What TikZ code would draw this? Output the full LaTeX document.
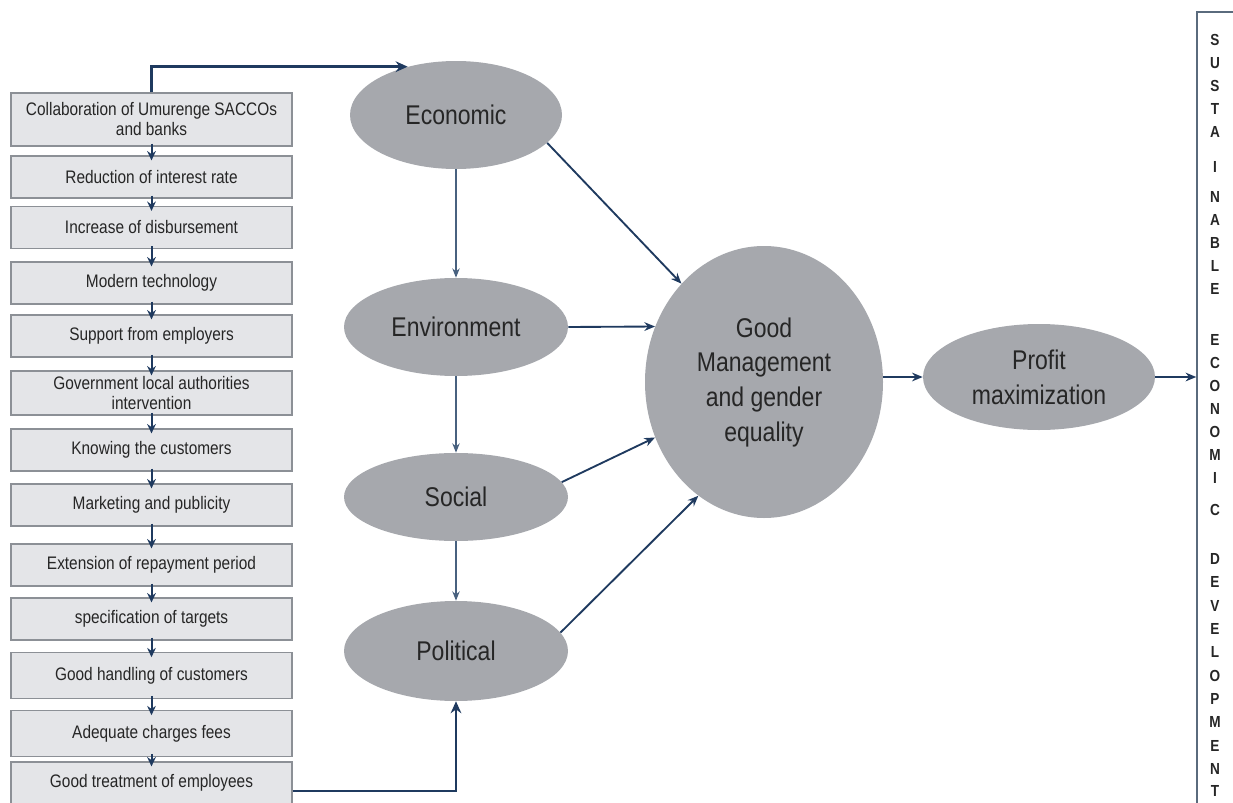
\documentclass[tikz,border=0pt]{standalone}
\usepackage{fontspec}
\setmainfont{Liberation Sans}[FakeStretch=0.85]
\usepackage{tikz}
\usetikzlibrary{arrows.meta, shapes.geometric, calc, positioning}
\usepackage{xcolor}

\definecolor{arrnavy}{HTML}{1F3A5F}
\definecolor{thinnavy}{HTML}{48617F}
\definecolor{boxfill}{HTML}{E4E5E8}
\definecolor{boxline}{HTML}{8C9096}
\definecolor{ellfill}{HTML}{A6A8AD}
\definecolor{sdline}{HTML}{5A6B7D}
\definecolor{inktext}{HTML}{262626}

\tikzset{
  cause/.style={draw=boxline, line width=0.9pt, fill=boxfill, minimum width=210.75pt,
    minimum height=31.5pt, inner sep=1pt, align=center, text=inktext,
    font=\fontsize{13.6}{15}\selectfont},
  factor/.style={ellipse, fill=ellfill, inner sep=0pt, align=center, text=inktext,
    font=\fontsize{20.3}{26}\selectfont},
  letter/.style={inner sep=0pt, text=inktext, font=\bfseries\fontsize{12}{12}\selectfont},
  steparrow/.style={draw=arrnavy, line width=1.5pt, -{Stealth[length=7pt, width=6.5pt]}},
  linkarrow/.style={draw=arrnavy, line width=2.2pt, -{Stealth[length=9pt, width=8pt]}},
  feedarrow/.style={draw=arrnavy, line width=1.4pt, -{Stealth[length=8pt, width=6.5pt]}},
  downarrow/.style={draw=thinnavy, line width=1.1pt, -{Stealth[length=7pt, width=5.5pt]}}
}

\begin{document}
\begin{tikzpicture}[x=0.75pt, y=-0.75pt]
	\useasboundingbox (0,0) rectangle (1233,803);

	% left column of causes
	\node [cause, minimum height=39.75pt] (b1) at (151.5,119.5) {Collaboration of Umurenge SACCOs\\and banks};
	\node [cause] (b2) at (151.5,177) {Reduction of interest rate};
	\node [cause] (b3) at (151.5,227.5) {Increase of disbursement};
	\node [cause] (b4) at (151.5,283) {Modern technology};
	\node [cause] (b5) at (151.5,336) {Support from employers};
	\node [cause, minimum height=33pt] (b6) at (151.5,393) {Government local authorities\\intervention};
	\node [cause] (b7) at (151.5,450) {Knowing the customers};
	\node [cause] (b8) at (151.5,505) {Marketing and publicity};
	\node [cause] (b9) at (151.5,565) {Extension of repayment period};
	\node [cause] (b10) at (151.5,619) {specification of targets};
	\node [cause, minimum height=34pt] (b11) at (151.5,675.5) {Good handling of customers};
	\node [cause, minimum height=34pt] (b12) at (151.5,733.5) {Adequate charges fees};
	\node [cause] (b13) at (151.5,783) {Good treatment of employees};

	\draw [steparrow] ($(b1.south)+(0,-3)$) -- ($(b2.north)+(0,5)$);
	\draw [steparrow] ($(b2.south)+(0,-3)$) -- ($(b3.north)+(0,5)$);
	\draw [steparrow] ($(b3.south)+(0,-3)$) -- ($(b4.north)+(0,5)$);
	\draw [steparrow] ($(b4.south)+(0,-3)$) -- ($(b5.north)+(0,5)$);
	\draw [steparrow] ($(b5.south)+(0,-3)$) -- ($(b6.north)+(0,5)$);
	\draw [steparrow] ($(b6.south)+(0,-3)$) -- ($(b7.north)+(0,5)$);
	\draw [steparrow] ($(b7.south)+(0,-3)$) -- ($(b8.north)+(0,5)$);
	\draw [steparrow] ($(b8.south)+(0,-3)$) -- ($(b9.north)+(0,5)$);
	\draw [steparrow] ($(b9.south)+(0,-3)$) -- ($(b10.north)+(0,5)$);
	\draw [steparrow] ($(b10.south)+(0,-3)$) -- ($(b11.north)+(0,5)$);
	\draw [steparrow] ($(b11.south)+(0,-3)$) -- ($(b12.north)+(0,5)$);
	\draw [steparrow] ($(b12.south)+(0,-3)$) -- ($(b13.north)+(0,5)$);

	% the four pillars
	\node [factor, minimum width=159pt, minimum height=81pt] (Eco) at (456,115) {Economic};
	\node [factor, minimum width=168pt, minimum height=73.5pt] (Env) at (456,327) {Environment};
	\node [factor, minimum width=168pt, minimum height=66pt] (Soc) at (456,497) {Social};
	\node [factor, minimum width=168pt, minimum height=75pt] (Pol) at (456,651) {Political};

	\node [factor, minimum width=178.5pt, minimum height=204pt] (GM) at (764,382) {Good\\Management\\and gender\\equality};
	\node [factor, minimum width=174pt, minimum height=79.5pt] (PM) at (1039,377) {Profit\\maximization};

	% sustainable economic development
	\node [draw=sdline, line width=1.1pt, fill=white, minimum width=36pt, minimum height=602.25pt,
		inner sep=0pt] (SD) at (1221,413.5) {};
	\foreach \l/\y [count=\i] in {S/40, U/63, S/86, T/109, A/132, I/167, N/197, A/220, B/243, L/266, E/289,
		E/340, C/363, O/386, N/409, O/432, M/455, I/478, C/510,
		D/559, E/582, V/606, E/629, L/652, O/676, P/699, M/722, E/746, N/769, T/791}
		\node [letter] (L\i) at (1215,\y) {\l};

	% connectors
	\draw [linkarrow] (b1.north) |- (Eco.135);
	\draw [linkarrow] ($(b13.east)+(0,8)$) -| (Pol.south);

	\draw [downarrow] (Eco.south) -- (Env.north);
	\draw [downarrow] (Env.south) -- (Soc.north);
	\draw [downarrow] (Soc.south) -- (Pol.north);

	\draw [feedarrow] (Eco.-17) -- (GM.130);
	\draw [feedarrow] (Env.east) -- (GM.153);
	\draw [feedarrow] (Soc.8) -- (GM.207);
	\draw [feedarrow] (Pol.10) -- (GM.240);

	\draw [feedarrow] (GM.east |- PM.west) -- (PM.west);
	\draw [feedarrow] (PM.east) -- (PM.east -| SD.west);

 \end{tikzpicture}
\end{document}
